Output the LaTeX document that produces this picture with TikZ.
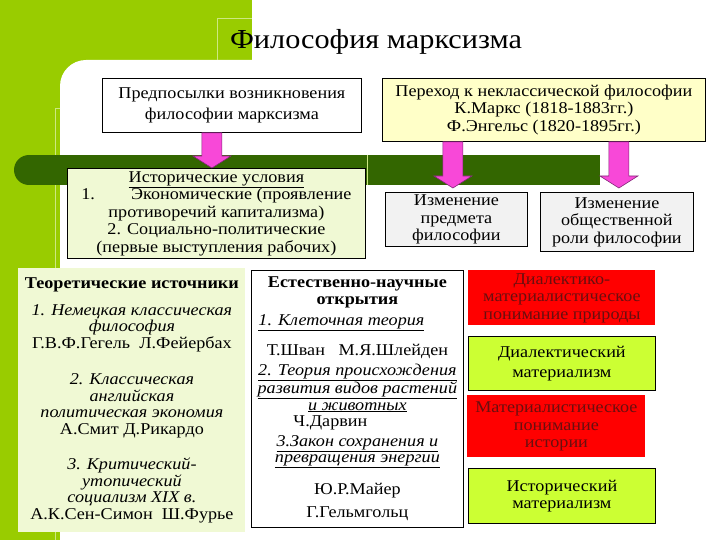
\documentclass[tikz,border=0pt]{standalone}
\usepackage{fontspec}
\setmainfont{Liberation Serif}[FakeStretch=1.1]
\usepackage{tikz}
\usetikzlibrary{positioning,calc}

\definecolor{slidelime}{RGB}{153,204,0}
\definecolor{slideline}{RGB}{205,232,130}
\definecolor{bargreen}{RGB}{51,102,0}
\definecolor{paleyellow}{RGB}{255,255,200}
\definecolor{palegreen}{RGB}{240,249,212}
\definecolor{boxgray}{RGB}{242,242,242}
\definecolor{boxred}{RGB}{255,0,0}
\definecolor{boxlime}{RGB}{204,255,51}
\definecolor{arrowpink}{RGB}{248,72,216}
\definecolor{arrowedge}{RGB}{130,40,120}
\definecolor{redtext}{RGB}{105,15,15}

\newcommand{\bodyfont}{\fontsize{16.5pt}{17.5pt}\selectfont}
\newcommand{\listfont}{\fontsize{16.5pt}{16.5pt}\selectfont}
\newcommand{\headfont}{\fontsize{16.5pt}{17pt}\selectfont\bfseries}
\newcommand{\pinkarrow}[2]{%
  \draw[pinkarr] let \p1=(#1), \p2=(#2) in
    (\x1-10pt,\y1) -- (\x1+10pt,\y1) -- (\x1+10pt,\y2+12pt)
    -- (\x1+19pt,\y2+12pt) -- (\x1,\y2) -- (\x1-19pt,\y2+12pt)
    -- (\x1-10pt,\y2+12pt) -- cycle;}

\begin{document}
\begin{tikzpicture}[
  x=1pt, y=-1pt,
  plainbox/.style={draw=black, line width=0.8pt, inner sep=2pt, align=center,
                   anchor=north west, font=\bodyfont},
  whitebox/.style={plainbox, fill=white},
  yellowbox/.style={plainbox, fill=paleyellow},
  greenbox/.style={plainbox, fill=palegreen},
  graybox/.style={plainbox, fill=boxgray},
  redbox/.style={plainbox, draw=none, fill=boxred, text=redtext},
  limebox/.style={plainbox, fill=boxlime},
  pinkarr/.style={fill=arrowpink, draw=arrowedge, line width=0.6pt},
]
  \useasboundingbox (0,0) rectangle (720,540);

  % Slide background
  \fill[white] (0,0) rectangle (720,540);
  \fill[slidelime] (0,0) rectangle (252,540);
  \fill[white, rounded corners=26pt] (60,60) rectangle (760,580);
  \draw[slideline, line width=0.6pt] (217,60) -- (217,18) -- (252,18);
  \draw[slideline, line width=0.6pt] (60,108) -- (55,108) -- (55,540);

  % Dark bar
  \fill[bargreen] (29,155) rectangle (600,185);
  \fill[bargreen] (29,170) circle[radius=15];
  \draw[slideline, line width=0.6pt] (367,155) -- (367,185);

  % Title
  \node[font=\fontsize{27.5pt}{32pt}\selectfont] (title) at (376,42) {Философия марксизма};

  % Upper row
  \node[whitebox, minimum width=259pt, minimum height=54pt] (pre) at (102,78)
    {Предпосылки возникновения\\[3pt]философии марксизма};
  \node[yellowbox, minimum width=323pt, minimum height=63pt] (trans) at (382,78)
    {Переход к неклассической философии\\К.Маркс (1818-1883гг.)\\Ф.Энгельс (1820-1895гг.)};

  % Middle row
  \node[greenbox, minimum width=298pt, minimum height=90pt] (hist) at (67,168)
    {\underline{Исторические условия}\\
     1.\hspace{2.2em}Экономические (проявление\\
     противоречий капитализма)\\
     2. Социально-политические\\
     (первые выступления рабочих)};
  \node[graybox, minimum width=142pt, minimum height=54pt] (subj) at (385,192)
    {Изменение\\предмета\\философии};
  \node[graybox, minimum width=153pt, minimum height=59pt] (role) at (540,192)
    {Изменение\\общественной\\роли философии};

  % Theoretical sources
  \node[plainbox, draw=none, fill=palegreen, font=\listfont,
        minimum width=227pt, minimum height=264pt] (theory) at (18,268)
    {{\headfont Теоретические источники}\\[10pt]
     \textit{1. Немецкая классическая}\\
     \textit{философия}\\
     Г.В.Ф.Гегель\ \ Л.Фейербах\\[20pt]
     \textit{2. Классическая}\\
     \textit{английская}\\
     \textit{политическая экономия}\\
     А.Смит Д.Рикардо\\[19pt]
     \textit{3. Критический-}\\
     \textit{утопический}\\
     \textit{социализм XIX в.}\\
     А.К.Сен-Симон\ \ Ш.Фурье};

  % Natural science discoveries
  \node[whitebox, font=\listfont, minimum width=212pt, minimum height=257pt] (nature) at (251,270)
    {{\headfont Естественно-научные}\\[0.5pt]
     {\headfont открытия}\\[4pt]
     \underline{\textit{1. Клеточная теория}}\rule{32pt}{0pt}\\[13pt]
     Т.Шван\ \ \ М.Я.Шлейден\\[3pt]
     \underline{\textit{2. Теория происхождения}}\\
     \underline{\textit{развития видов растений}}\\
     \underline{\textit{и животных}}\\
     Ч.Дарвин\rule{54pt}{0pt}\\[3pt]
     \underline{\textit{3.Закон сохранения и}}\\
     \underline{\textit{превращения энергии}}\\[14pt]
     Ю.Р.Майер\\[7pt]
     Г.Гельмгольц};

  % Right column
  \node[redbox, minimum width=187pt, minimum height=55pt] (dmnat) at (468,270)
    {Диалектико-\\материалистическое\\понимание природы};
  \node[limebox, minimum width=187pt, minimum height=54pt] (dmat) at (468,336)
    {Диалектический\\[2pt]материализм};
  \node[redbox, minimum width=178pt, minimum height=62pt] (mhist) at (467,395)
    {Материалистическое\\понимание\\истории};
  \node[limebox, minimum width=187pt, minimum height=55pt] (hmat) at (468,468)
    {Исторический\\материализм};

  % Arrows
  \pinkarrow{$(pre.south)+(-20pt,0)$}{hist.north};
  \pinkarrow{$(trans.south)+(-91pt,0)$}{$(subj.north)+(0,4pt)$};
  \pinkarrow{$(trans.south)+(75pt,0)$}{$(role.north)+(0,4pt)$};
\end{tikzpicture}
\end{document}
